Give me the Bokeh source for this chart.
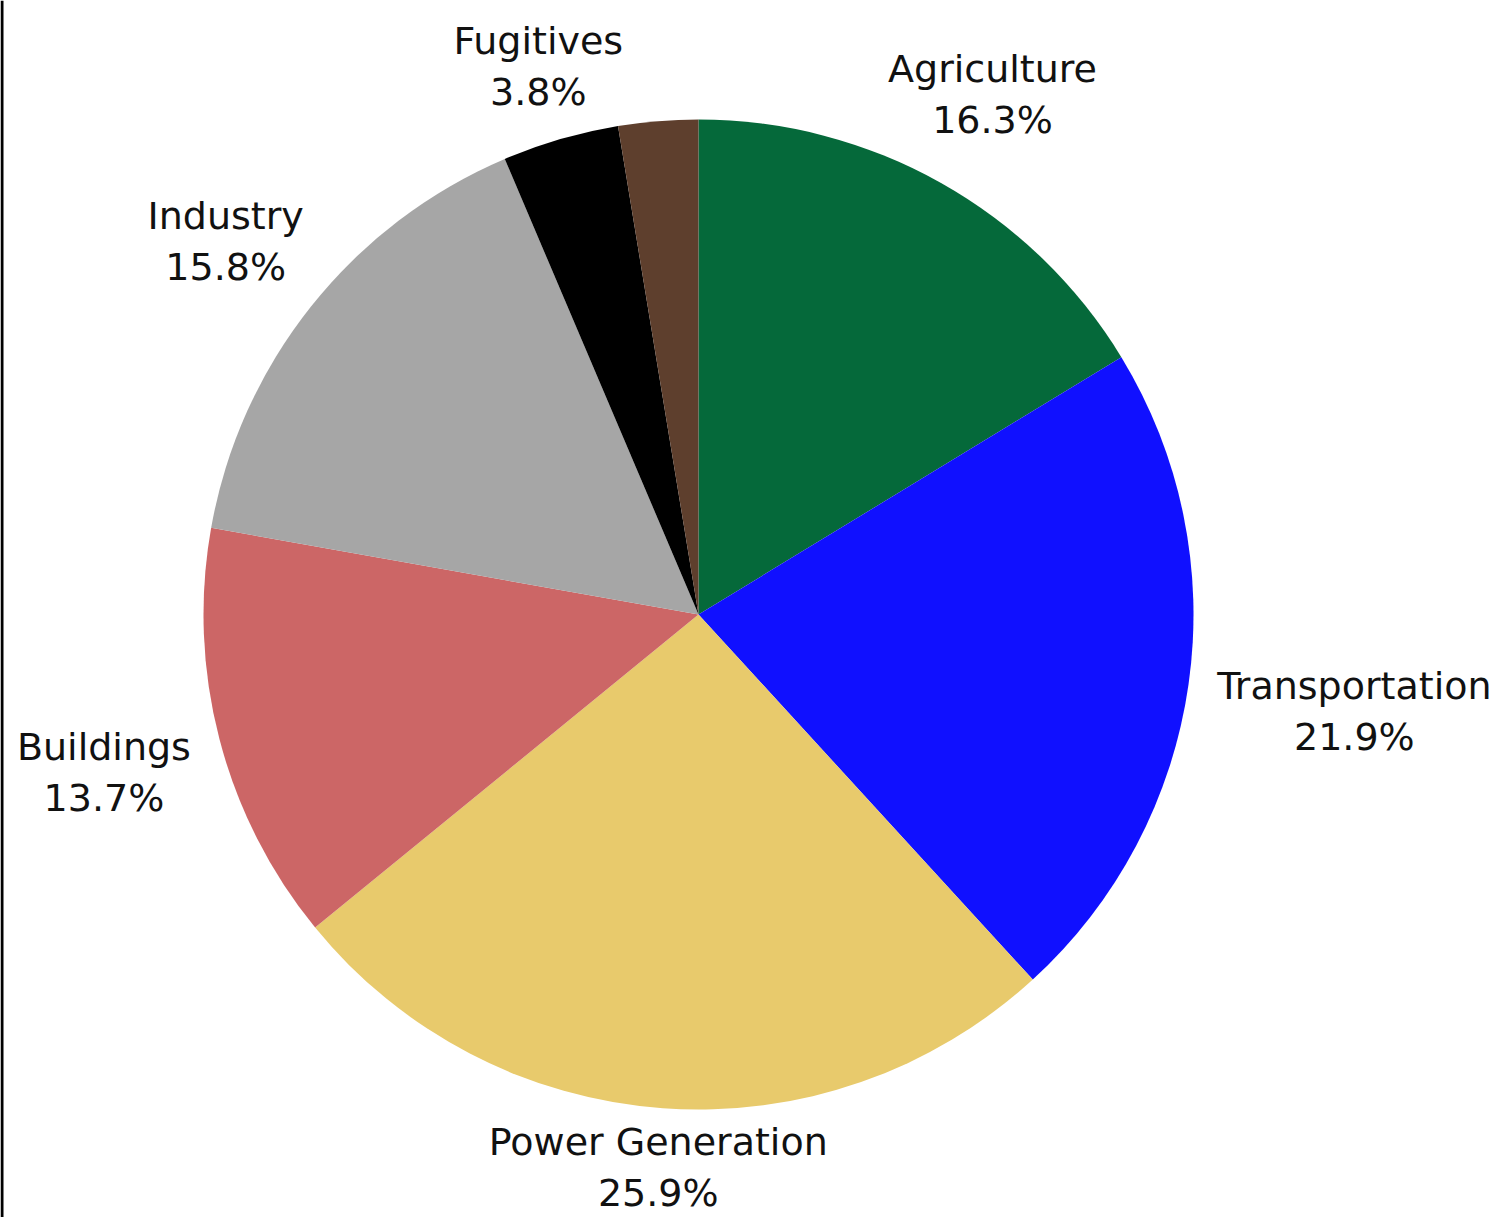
import math
from bokeh.plotting import figure
from bokeh.models import Range1d, Span, ColumnDataSource
from bokeh.embed import file_html
from bokeh.resources import INLINE
from bokeh.core.properties import value

# ---- data ----
categories = ["Agriculture", "Transportation", "Power Generation", "Buildings",
              "Industry", "Fugitives", "Other"]
shares = [16.3, 21.9, 25.9, 13.7, 15.8, 3.8, 2.6]
show_label = [True, True, True, True, True, True, False]
colors = ["#05693A", "#1010FF", "#E8CA6C", "#CC6666", "#A6A6A6", "#000000", "#5E3F2D"]

# ---- layout (pixels) ----
W, H = 1508, 1217
CX, CY = 698, 614          # pie centre in screen pixels
R = 495
FS = 38
GAP = 20
CHAR_W = 20.5
BOX_H = 82
MAX_ANCHOR = 1192


def sy(y):
    return H - y


p = figure(width=W, height=H, x_range=Range1d(0, W), y_range=Range1d(0, H),
           output_backend="svg", toolbar_location=None, min_border=0, title=None)
p.axis.visible = False
p.grid.visible = False
p.outline_line_color = None
p.background_fill_color = "white"
p.border_fill_color = "white"

total = sum(shares)
starts, ends, mids = [], [], []
cum = 0.0
for v in shares:
    a0 = cum / total * 2 * math.pi
    cum += v
    a1 = cum / total * 2 * math.pi
    starts.append(math.pi / 2 - a0)
    ends.append(math.pi / 2 - a1)
    mids.append((a0 + a1) / 2)

src = ColumnDataSource(dict(cat=categories, start=starts, end=ends, color=colors))
p.wedge(x=CX, y=sy(CY), radius=R, start_angle="start", end_angle="end",
        direction="clock", fill_color="color", line_color=None, source=src)

# ---- labels ----
lx, ly, lt = [], [], []
for cat, v, th, show in zip(categories, shares, mids, show_label):
    if not show:
        continue
    pct = f"{v:.1f}%"
    w = CHAR_W * max(len(cat), len(pct))
    ux, uy = math.sin(th), -math.cos(th)

    def near(t):
        bx, by = CX + t * ux, CY + t * uy
        qx = min(max(CX, bx - w / 2), bx + w / 2)
        qy = min(max(CY, by - BOX_H / 2), by + BOX_H / 2)
        return math.hypot(qx - CX, qy - CY)

    lo, hi = 0.0, 2000.0
    for _ in range(60):
        mid = (lo + hi) / 2
        if near(mid) < R + GAP:
            lo = mid
        else:
            hi = mid
    bx, by = CX + lo * ux, CY + lo * uy
    by = min(by, MAX_ANCHOR - 29)   # keep the block inside the canvas
    lx += [bx, bx]
    ly += [sy(by - 22), sy(by + 29)]
    lt += [cat, pct]

p.text(x=lx, y=ly, text=lt, text_align="center", text_baseline="alphabetic",
       text_font=value("DejaVu Sans"), text_font_size=f"{FS}px",
       text_color="#111111")

p.add_layout(Span(location=1.5, dimension="height", line_color="black", line_width=3))

open("out.html", "w").write(file_html(p, INLINE))
